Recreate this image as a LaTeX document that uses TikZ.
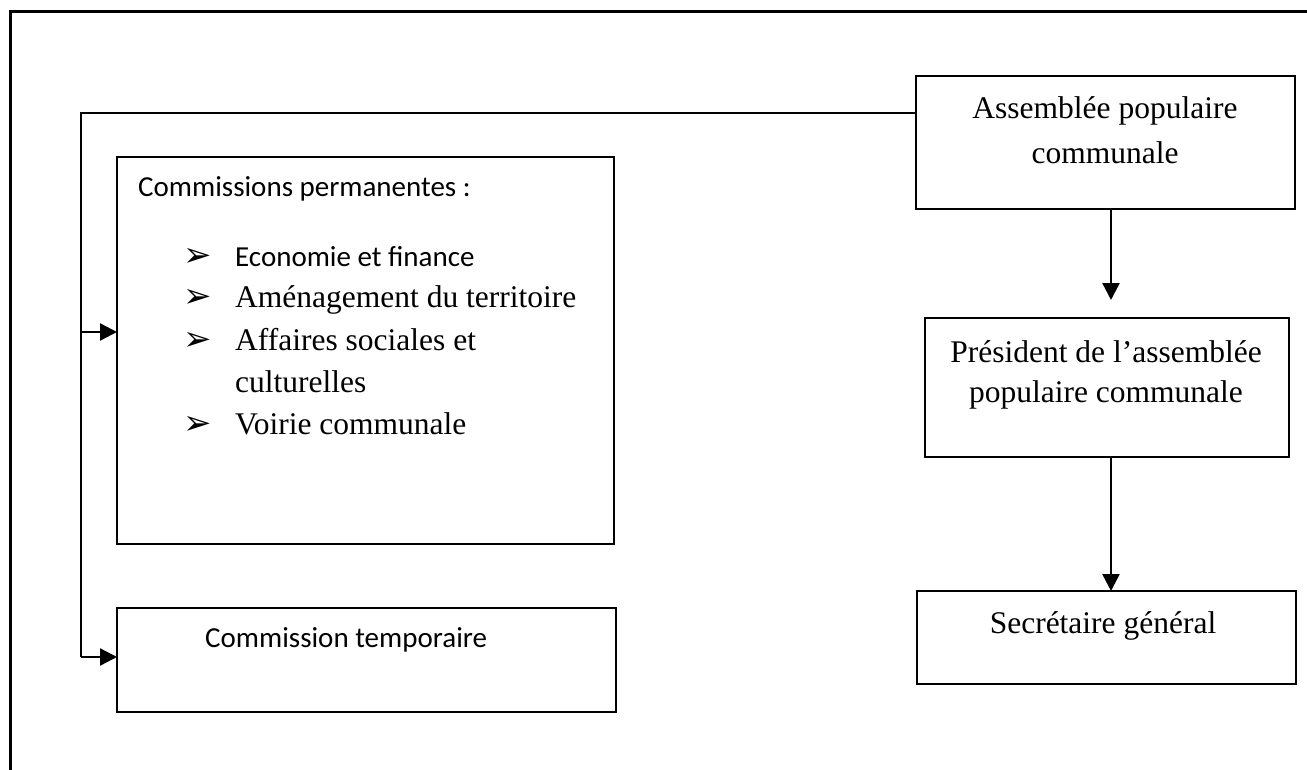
\documentclass[tikz,border=0pt]{standalone}
\usepackage{fontspec}
\setmainfont{Liberation Serif}
\newfontfamily\calfont{Carlito}
\newfontfamily\symfont{DejaVu Sans}
\usetikzlibrary{arrows.meta}

\tikzset{
  box/.style={draw=black, line width=2.2pt, anchor=north west, inner sep=0pt, outer sep=0pt},
  serif/.style={font=\fontsize{31.5}{40}\selectfont, inner sep=0pt, anchor=base},
  sans/.style={font=\calfont\fontsize{29}{36}\selectfont, inner sep=0pt, anchor=base west},
  bullet/.style={font=\symfont\fontsize{34}{40}\selectfont, inner sep=0pt, anchor=base west},
  link/.style={line width=2.4pt, draw=black},
  tip/.style={-{Triangle[length=17pt,width=17pt]}}
}

\begin{document}
\begin{tikzpicture}[x=1pt, y=-1pt]
\useasboundingbox (0,0) rectangle (1307,770);

% outer frame (left and top edges)
\draw[line width=3pt] (10,770) -- (10,12) -- (1307,12);

% boxes
\node[box, minimum width=379pt, minimum height=133pt] (apc) at (916,76) {};
\node[box, minimum width=364pt, minimum height=139pt] (papc) at (925,318) {};
\node[box, minimum width=379pt, minimum height=93pt] (sg) at (917,591) {};
\node[box, minimum width=497pt, minimum height=387pt] (cp) at (117,157) {};
\node[box, minimum width=499pt, minimum height=104pt] (ct) at (117,608) {};

% texts of the right-hand column
\node[serif] (t1) at (1105,119) {Assemblée populaire};
\node[serif] (t2) at (1105,164) {communale};
\node[serif] (t3) at (1106,362) {Président de l’assemblée};
\node[serif] (t4) at (1106,402) {populaire communale};
\node[serif] (t5) at (1103,633) {Secrétaire général};

% permanent commissions
\node[sans] (h1) at (138,197) {Commissions permanentes :};
\node[bullet] (b1) at (183,266) {➢};
\node[sans] (l1) at (235,266) {Economie et finance};
\node[bullet] (b2) at (183,308) {➢};
\node[serif, anchor=base west] (l2) at (235,308) {Aménagement du territoire};
\node[bullet] (b3) at (183,350) {➢};
\node[serif, anchor=base west] (l3) at (235,350) {Affaires sociales et};
\node[serif, anchor=base west] (l4) at (235,392) {culturelles};
\node[bullet] (b4) at (183,434) {➢};
\node[serif, anchor=base west] (l5) at (235,434) {Voirie communale};

% temporary commission
\node[sans] (h2) at (205,647) {Commission temporaire};

% connectors
\coordinate (bt) at (81,113);
\coordinate (bm) at (81,332);
\coordinate (bb) at (81,657);
\draw[link] (apc.west |- bt) -- (bt) -- (bb);
\draw[link, tip] (bm) -- (cp.west |- bm);
\draw[link, tip] (bb) -- (ct.west |- bb);
\draw[link, tip, shorten >=18pt] (apc.south -| 1111,0) -- (papc.north -| 1111,0);
\draw[link, tip] (papc.south -| 1111,0) -- (sg.north -| 1111,0);
\end{tikzpicture}
\end{document}
